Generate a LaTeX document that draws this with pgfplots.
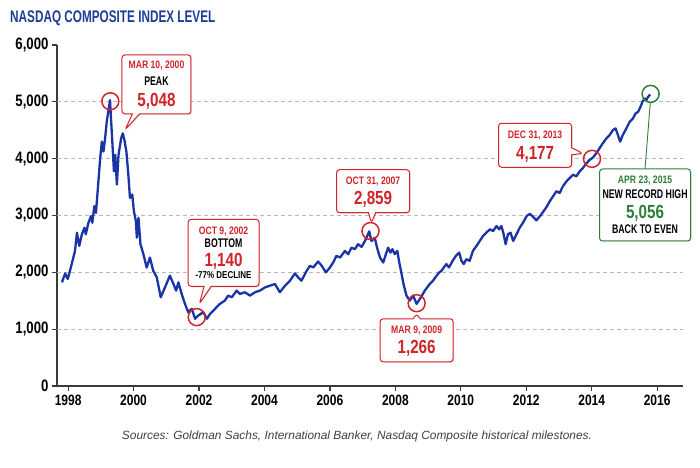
\documentclass[border=0pt]{standalone}
\usepackage{fontspec}
\setmainfont{Liberation Sans}
\newfontfamily\cnd{Liberation Sans}[FakeStretch=0.7]
\newfontfamily\cndn{Liberation Sans}[FakeStretch=0.8]
\usepackage{pgfplots}
\pgfplotsset{compat=1.18}
\usetikzlibrary{shapes.callouts,shadows}
\definecolor{lineblue}{HTML}{1A34A6}
\definecolor{titleblue}{HTML}{1F3C96}
\definecolor{cred}{HTML}{D2232A}
\definecolor{cgreen}{HTML}{2E7D3C}
\definecolor{axisgray}{HTML}{3A3A3A}
\definecolor{gridgray}{HTML}{B8B8B8}
\newcommand{\st}[1]{\rule[-2pt]{0pt}{\dimexpr #1pt+2pt\relax}}
\newcommand{\fd}{\cndn\bfseries\fontsize{10.8}{11}\selectfont}
\newcommand{\fl}{\cnd\bfseries\fontsize{12.5}{13}\selectfont}
\newcommand{\fs}{\cndn\bfseries\fontsize{10}{11}\selectfont}
\newcommand{\fn}{\cndn\bfseries\fontsize{19}{20}\selectfont}
\tikzset{
  bx/.style={fill=white, line width=1pt, rounded corners=3pt, align=center, inner sep=1pt,
    font=\fontsize{10}{1}\selectfont,
    drop shadow={opacity=0.18, shadow xshift=1.2pt, shadow yshift=-1.2pt}},
  callbox/.style={bx, rectangle callout, draw=cred}
}
\begin{document}
\begin{tikzpicture}[x=1pt,y=1pt]
\useasboundingbox (0,0) rectangle (700,467);
\node[anchor=west, text=titleblue, font=\cnd\bfseries\fontsize{16.8}{18}\selectfont, inner sep=0pt] at (10,449) {NASDAQ COMPOSITE INDEX LEVEL};
\node[text=black!75, font=\itshape\fontsize{11.9}{13}\selectfont] at (357,31) {Sources: Goldman Sachs, International Banker, Nasdaq Composite historical milestones.};
\begin{axis}[
  at={(57pt,81pt)}, anchor=south west, scale only axis,
  width=626pt, height=341pt,
  xmin=1997.66, xmax=2016.79, ymin=0, ymax=6000,
  axis lines=left,
  axis line style={draw=axisgray, line width=1.5pt, -},
  tick style={draw=axisgray, line width=1.2pt},
  tick align=outside, major tick length=5pt,
  xtick={1998,2000,...,2016}, ytick={0,1000,...,6000},
  scaled ticks=false,
  /pgf/number format/assume math mode=true,
  x tick label style={/pgf/number format/1000 sep={}, font=\cndn\bfseries\fontsize{15}{16}\selectfont, text=black},
  y tick label style={/pgf/number format/1000 sep={,}, font=\cndn\bfseries\fontsize{16.5}{17}\selectfont, text=black},
  clip=false,
]
\pgfplotsinvokeforeach{1000,2000,3000,4000,5000}{
  \draw[gridgray, line width=0.9pt, dash pattern=on 4pt off 3pt] (axis cs:1997.66,#1) -- (axis cs:2016.79,#1);
}
\addplot[lineblue, line width=2.3pt, line join=round] coordinates {
(1997.81,1823) (1997.91,1981) (1997.99,1883) (1998.11,2145) (1998.21,2378) (1998.27,2698)
(1998.34,2465) (1998.42,2669) (1998.50,2785) (1998.54,2669) (1998.62,2873) (1998.70,2990)
(1998.74,2873) (1998.80,3164) (1998.85,3047) (1998.91,3485) (1998.98,4009) (1999.03,4300)
(1999.08,4126) (1999.13,4358) (1999.18,4650) (1999.28,5030) (1999.31,4708) (1999.35,4300)
(1999.40,3776) (1999.44,4068) (1999.49,3544) (1999.54,4068) (1999.62,4358) (1999.67,4446)
(1999.72,4330) (1999.78,4126) (1999.84,3718) (1999.89,3310) (1999.96,3368) (2000.01,3077)
(2000.07,2902) (2000.10,2610) (2000.15,2960) (2000.21,2495) (2000.30,2320) (2000.40,2086)
(2000.50,2260) (2000.60,2028) (2000.71,1911) (2000.83,1561) (2000.96,1736) (2001.11,1941)
(2001.22,1795) (2001.30,1678) (2001.37,1823) (2001.47,1620) (2001.57,1446) (2001.67,1299)
(2001.78,1358) (2001.88,1183) (2001.98,1241) (2002.13,1299) (2002.24,1183) (2002.34,1271)
(2002.49,1358) (2002.64,1446) (2002.79,1503) (2002.89,1591) (2003.00,1561) (2003.15,1678)
(2003.25,1620) (2003.40,1649) (2003.56,1591) (2003.71,1649) (2003.86,1678) (2004.02,1736)
(2004.17,1766) (2004.32,1795) (2004.47,1650) (2004.63,1766) (2004.78,1853) (2004.93,1981)
(2005.03,1911) (2005.13,1853) (2005.29,2028) (2005.39,2115) (2005.49,2086) (2005.64,2191)
(2005.75,2115) (2005.88,1999) (2006.00,2086) (2006.10,2173) (2006.20,2290) (2006.31,2260)
(2006.46,2378) (2006.56,2320) (2006.66,2435) (2006.76,2407) (2006.86,2495) (2006.97,2448)
(2007.07,2552) (2007.14,2640) (2007.20,2720) (2007.27,2552) (2007.37,2610) (2007.44,2435)
(2007.53,2260) (2007.63,2173) (2007.71,2320) (2007.78,2435) (2007.85,2348) (2007.91,2407)
(2007.98,2320) (2008.06,2378) (2008.12,2173) (2008.19,1970) (2008.26,1766) (2008.34,1591)
(2008.44,1503) (2008.54,1591) (2008.65,1446) (2008.75,1533) (2008.90,1678) (2009.05,1795)
(2009.15,1853) (2009.26,1941) (2009.34,1999) (2009.41,2028) (2009.48,2086) (2009.56,2145)
(2009.64,2086) (2009.75,2203) (2009.85,2290) (2009.95,2348) (2010.02,2203) (2010.09,2145)
(2010.17,2232) (2010.27,2203) (2010.37,2378) (2010.48,2465) (2010.58,2552) (2010.68,2640)
(2010.78,2698) (2010.89,2757) (2010.99,2727) (2011.09,2815) (2011.17,2757) (2011.24,2815)
(2011.31,2669) (2011.37,2495) (2011.44,2669) (2011.52,2698) (2011.60,2552) (2011.70,2669)
(2011.80,2785) (2011.90,2873) (2012.01,2990) (2012.11,3030) (2012.21,2975) (2012.31,2915)
(2012.46,3019) (2012.62,3150) (2012.72,3252) (2012.82,3339) (2012.92,3427) (2013.02,3397)
(2013.12,3514) (2013.23,3601) (2013.33,3659) (2013.43,3718) (2013.53,3689) (2013.63,3776)
(2013.73,3834) (2013.84,3921) (2013.94,3979) (2014.04,4021) (2014.14,4096) (2014.24,4184)
(2014.34,4271) (2014.45,4358) (2014.55,4417) (2014.65,4504) (2014.73,4533) (2014.80,4417)
(2014.87,4300) (2014.95,4417) (2015.06,4533) (2015.16,4650) (2015.26,4708) (2015.34,4796)
(2015.42,4825) (2015.49,4912) (2015.55,5000) (2015.62,5058) (2015.67,5029) (2015.72,5087)
(2015.79,5128)
};
\addplot[only marks, mark=o, mark size=8.5pt, mark options={draw=cred, line width=1.5pt}] coordinates {
(1999.29,5010) (2001.93,1212) (2007.24,2727) (2008.65,1457) (2014.01,3997)
};
\addplot[only marks, mark=o, mark size=8.5pt, mark options={draw=cgreen, line width=1.5pt}] coordinates {
(2015.80,5140)
};
\node[callbox, minimum width=69pt, minimum height=59pt, callout absolute pointer={(axis cs:1999.74,4510)}] at (axis cs:2000.70,5306)
 {\st{9}\smash{\fd\color{cred}MAR 10, 2000}\\\st{14}\smash{\fl PEAK}\\\st{18}\smash{\fn\color{cred}5,048}};
\node[callbox, minimum width=71pt, minimum height=67pt, callout absolute pointer={(axis cs:2002.01,1446)}] at (axis cs:2002.75,2343)
 {\st{9}\smash{\fd\color{cred}OCT 9, 2002}\\\st{10.5}\smash{\fl BOTTOM}\\\st{16}\smash{\fn\color{cred}1,140}\\\st{8.6}\smash{\fs -77\% DECLINE}};
\node[callbox, minimum width=73pt, minimum height=43pt, callout absolute pointer={(axis cs:2007.27,2873)}] at (axis cs:2007.32,3427)
 {\st{9}\smash{\fd\color{cred}OCT 31, 2007}\\\st{17}\smash{\fn\color{cred}2,859}};
\node[callbox, minimum width=73pt, minimum height=43pt, callout absolute pointer={(axis cs:2008.65,1271)}] at (axis cs:2008.65,804)
 {\st{9}\smash{\fd\color{cred}MAR 9, 2009}\\\st{17}\smash{\fn\color{cred}1,266}};
\node[callbox, minimum width=73pt, minimum height=44pt, callout absolute pointer={(axis cs:2013.73,4096)}] at (axis cs:2012.27,4236)
 {\st{9}\smash{\fd\color{cred}DEC 31, 2013}\\\st{18}\smash{\fn\color{cred}4,177}};
\node[bx, draw=cgreen, minimum width=91pt, minimum height=72pt] (gbox) at (axis cs:2015.63,3185)
 {\st{9}\smash{\fd\color{cgreen}APR 23, 2015}\\\st{12}\smash{\fl NEW RECORD HIGH}\\\st{17}\smash{\fn\color{cgreen}5,056}\\\st{11.4}\smash{\fl BACK TO EVEN}};
\draw[cgreen, line width=0.9pt] (gbox.north) -- (axis cs:2015.79,4983);
\end{axis}
\end{tikzpicture}
\end{document}
